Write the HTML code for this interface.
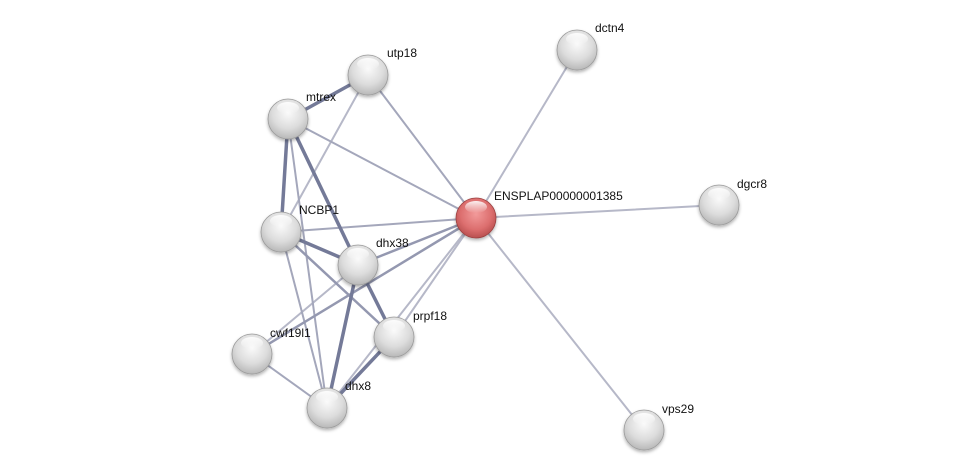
<!DOCTYPE html>
<html><head><meta charset="utf-8"><style>
html,body{margin:0;padding:0;background:#fff}
svg{display:block}
text{font-family:"Liberation Sans",sans-serif;font-size:12px;fill:#111}
</style></head><body>
<svg width="975" height="475" viewBox="0 0 975 475" xmlns="http://www.w3.org/2000/svg">
<defs>
<radialGradient id="g" cx="0.5" cy="0.35" r="0.65">
<stop offset="0" stop-color="#fafafa"/><stop offset="0.6" stop-color="#dcdcdc"/><stop offset="1" stop-color="#b8b8b8"/>
</radialGradient>
<radialGradient id="r" cx="0.5" cy="0.4" r="0.65">
<stop offset="0" stop-color="#f29a9a"/><stop offset="0.6" stop-color="#dc6e6e"/><stop offset="1" stop-color="#b04848"/>
</radialGradient>
<linearGradient id="h" x1="0" y1="0" x2="0" y2="1">
<stop offset="0" stop-color="#fff" stop-opacity="0.9"/><stop offset="1" stop-color="#fff" stop-opacity="0"/>
</linearGradient>
<filter id="s" x="-30%" y="-30%" width="160%" height="170%"><feDropShadow dx="0" dy="2" stdDeviation="1.5" flood-color="#000" flood-opacity="0.3"/></filter>
</defs>
<g stroke-linecap="round" fill="none">
<g stroke="#b6b8c8" stroke-width="2">
<line x1="476" y1="218" x2="577" y2="50"/>
<line x1="476" y1="218" x2="719" y2="205"/>
<line x1="476" y1="218" x2="644" y2="430"/>
<line x1="368" y1="75" x2="281" y2="232"/>
<line x1="476" y1="218" x2="327" y2="408"/>
<line x1="476" y1="218" x2="394" y2="337"/>
<line x1="252" y1="354" x2="358" y2="265"/>
</g>
<g stroke="#a4a7bb" stroke-width="2">
<line x1="368" y1="75" x2="476" y2="218"/>
<line x1="288" y1="119" x2="476" y2="218"/>
<line x1="281" y1="232" x2="476" y2="218"/>
<line x1="288" y1="119" x2="327" y2="408"/>
<line x1="281" y1="232" x2="327" y2="408"/>
<line x1="252" y1="354" x2="327" y2="408"/>
</g>
<g stroke="#9498b0" stroke-width="2.5">
<line x1="358" y1="265" x2="476" y2="218"/>
<line x1="252" y1="354" x2="476" y2="218"/>
<line x1="281" y1="232" x2="394" y2="337"/>
</g>
<g stroke="#747a98" stroke-width="3.5">
<line x1="368" y1="75" x2="288" y2="119"/>
<line x1="288" y1="119" x2="281" y2="232"/>
<line x1="288" y1="119" x2="358" y2="265"/>
<line x1="281" y1="232" x2="358" y2="265"/>
<line x1="358" y1="265" x2="327" y2="408"/>
<line x1="358" y1="265" x2="394" y2="337"/>
<line x1="394" y1="337" x2="327" y2="408"/>
</g>
</g>
<g filter="url(#s)">
<g transform="translate(577,50)"><circle r="20" fill="url(#g)" stroke="#9a9a9a" stroke-width="0.8"/><ellipse cx="0" cy="-11" rx="11" ry="6" fill="url(#h)"/></g>
<g transform="translate(368,75)"><circle r="20" fill="url(#g)" stroke="#9a9a9a" stroke-width="0.8"/><ellipse cx="0" cy="-11" rx="11" ry="6" fill="url(#h)"/></g>
<g transform="translate(288,119)"><circle r="20" fill="url(#g)" stroke="#9a9a9a" stroke-width="0.8"/><ellipse cx="0" cy="-11" rx="11" ry="6" fill="url(#h)"/></g>
<g transform="translate(719,205)"><circle r="20" fill="url(#g)" stroke="#9a9a9a" stroke-width="0.8"/><ellipse cx="0" cy="-11" rx="11" ry="6" fill="url(#h)"/></g>
<g transform="translate(281,232)"><circle r="20" fill="url(#g)" stroke="#9a9a9a" stroke-width="0.8"/><ellipse cx="0" cy="-11" rx="11" ry="6" fill="url(#h)"/></g>
<g transform="translate(358,265)"><circle r="20" fill="url(#g)" stroke="#9a9a9a" stroke-width="0.8"/><ellipse cx="0" cy="-11" rx="11" ry="6" fill="url(#h)"/></g>
<g transform="translate(394,337)"><circle r="20" fill="url(#g)" stroke="#9a9a9a" stroke-width="0.8"/><ellipse cx="0" cy="-11" rx="11" ry="6" fill="url(#h)"/></g>
<g transform="translate(252,354)"><circle r="20" fill="url(#g)" stroke="#9a9a9a" stroke-width="0.8"/><ellipse cx="0" cy="-11" rx="11" ry="6" fill="url(#h)"/></g>
<g transform="translate(327,408)"><circle r="20" fill="url(#g)" stroke="#9a9a9a" stroke-width="0.8"/><ellipse cx="0" cy="-11" rx="11" ry="6" fill="url(#h)"/></g>
<g transform="translate(644,430)"><circle r="20" fill="url(#g)" stroke="#9a9a9a" stroke-width="0.8"/><ellipse cx="0" cy="-11" rx="11" ry="6" fill="url(#h)"/></g>
<g transform="translate(476,218)"><circle r="20" fill="url(#r)" stroke="#9a4040" stroke-width="0.8"/><ellipse cx="0" cy="-11" rx="11" ry="6" fill="url(#h)"/></g>
</g>
<text x="595" y="32">dctn4</text>
<text x="387" y="57">utp18</text>
<text x="306" y="101">mtrex</text>
<text x="737" y="188">dgcr8</text>
<text x="299" y="214">NCBP1</text>
<text x="376" y="247">dhx38</text>
<text x="413" y="320">prpf18</text>
<text x="270" y="337">cwf19l1</text>
<text x="345" y="390">dhx8</text>
<text x="662" y="413">vps29</text>
<text x="494" y="200">ENSPLAP00000001385</text>
</svg>
</body></html>
